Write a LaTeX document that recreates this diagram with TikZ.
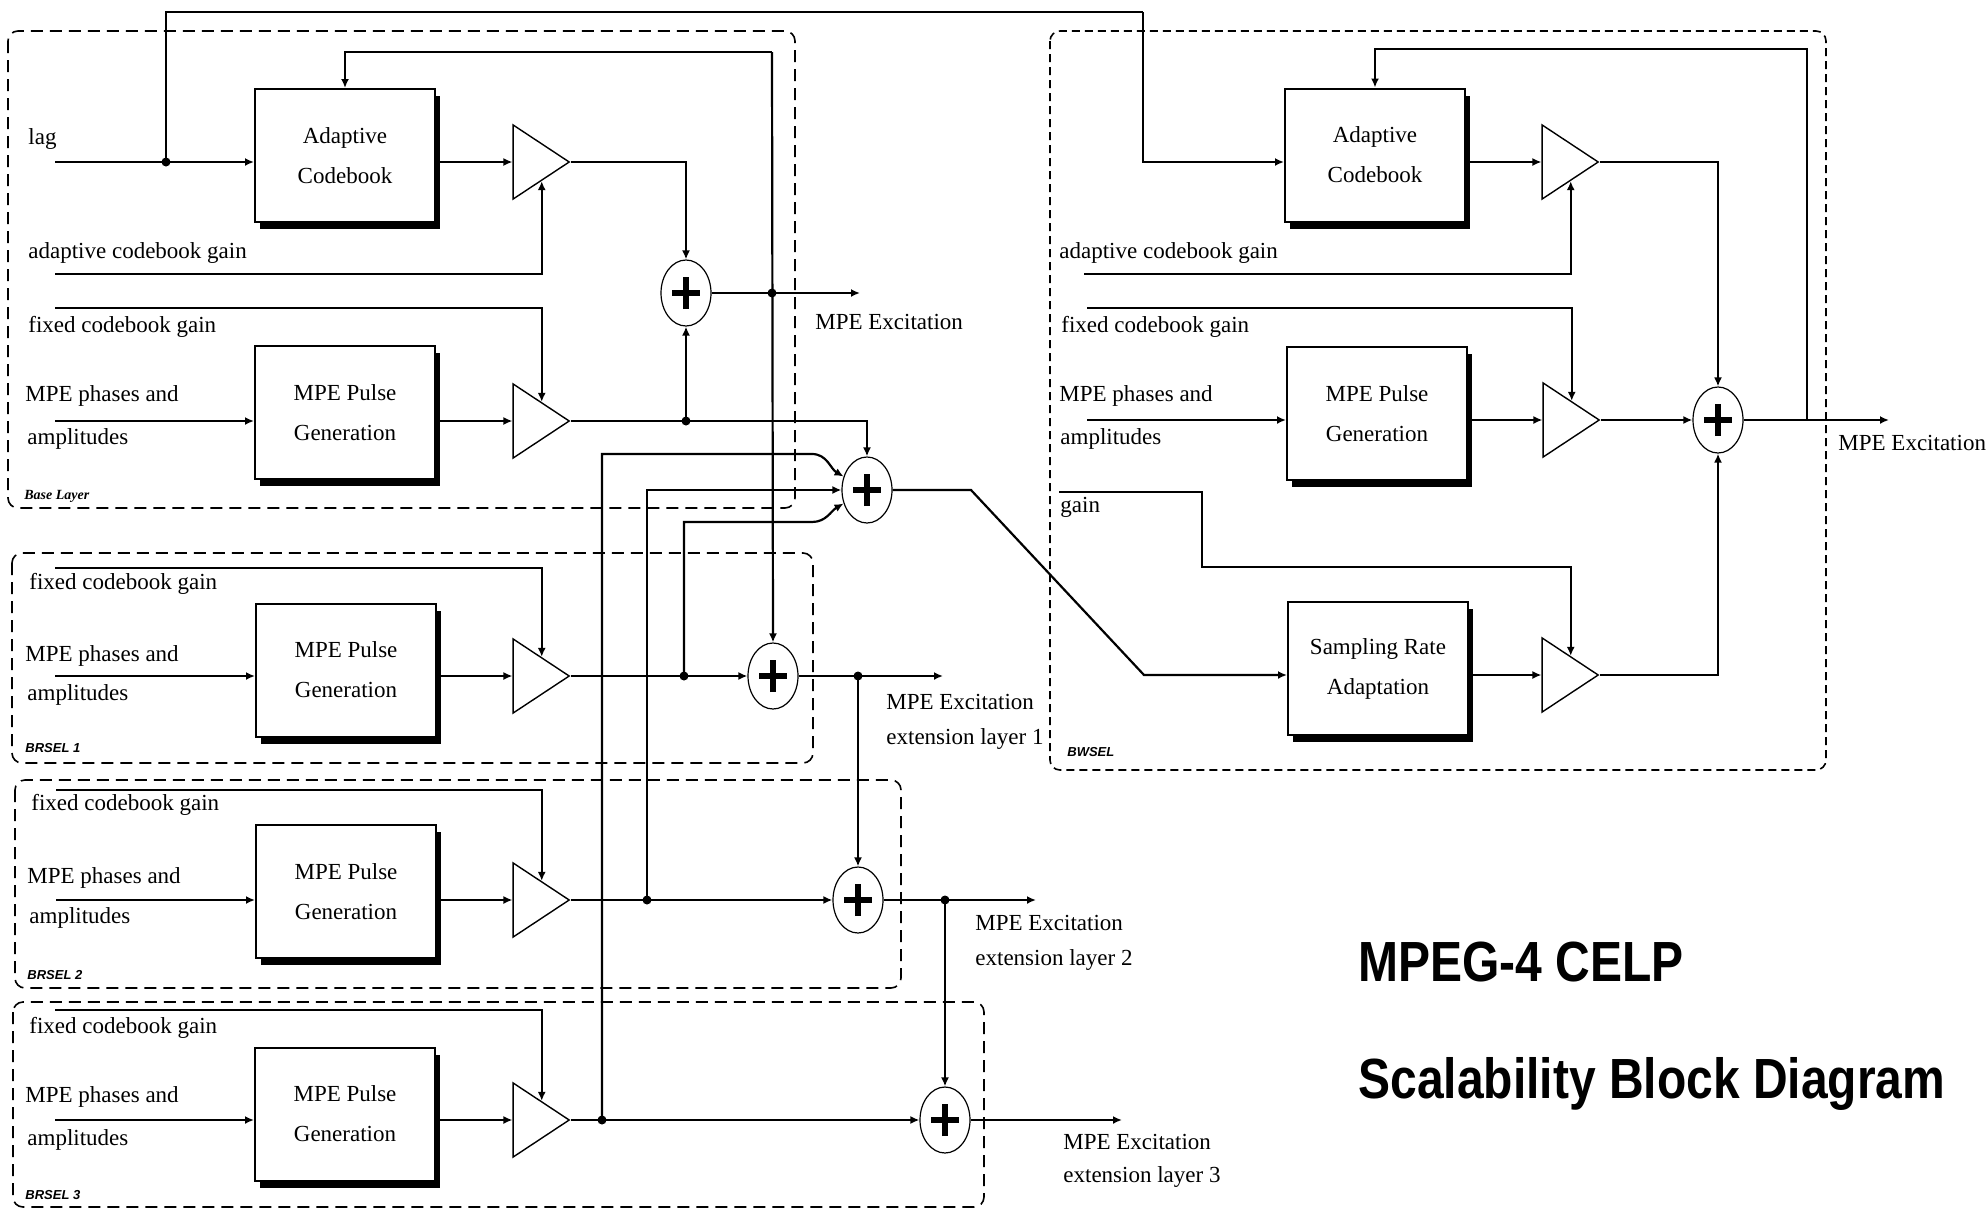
\documentclass[tikz,border=0pt]{standalone}
\usepackage{fontspec}
\setmainfont{Liberation Serif}
\newfontfamily\titlefont{Liberation Sans}
\usetikzlibrary{shapes.geometric,shadows,arrows.meta,calc}

\begin{document}
\begin{tikzpicture}[x=0.5pt,y=-0.5pt,
  sig/.style={line width=1.1pt},
  arr/.style={sig,-{Latex[length=4.5pt,width=4pt]}},
  blk/.style={draw,line width=1pt,fill=white,minimum width=90pt,minimum height=66.5pt,
    align=center,inner sep=0pt,font=\fontsize{11.5}{20}\selectfont,
    drop shadow={shadow xshift=2.5pt,shadow yshift=-3.5pt,fill=black,opacity=1}},
  amp/.style={draw,line width=.7pt,isosceles triangle,isosceles triangle stretches,
    minimum width=37pt,minimum height=28pt,inner sep=0pt,anchor=apex},
  adder/.style={draw,ellipse,line width=.6pt,minimum width=25pt,minimum height=33pt,
    inner sep=0pt,fill=white,
    path picture={\draw[line width=2.8pt]
      ([xshift=-7pt]path picture bounding box.center) -- ([xshift=7pt]path picture bounding box.center)
      ([yshift=-8pt]path picture bounding box.center) -- ([yshift=8pt]path picture bounding box.center);}},
  lbl/.style={anchor=mid west,inner sep=0pt,font=\fontsize{11.5}{13}\selectfont},
  layer/.style={draw,dash pattern=on 6pt off 3.5pt,line width=.8pt,rounded corners=5pt},
  layerfine/.style={draw,dash pattern=on 4pt off 2.5pt,line width=.8pt,rounded corners=5pt},
  tag/.style={anchor=mid west,inner sep=0pt,font=\titlefont\fontsize{6.5}{8}\selectfont\bfseries\itshape},
  jdot/.style={circle,fill,inner sep=0pt,minimum size=4.5pt},
  title/.style={anchor=base west,inner sep=0pt,font=\titlefont\bfseries\fontsize{24}{28}\selectfont}
]
\useasboundingbox (0,0) rectangle (1988,1211);

% ---------- dashed layer frames ----------
\draw[layer] (8,31) rectangle (795,508);
\node[tag,font=\fontsize{7}{8}\selectfont\bfseries\itshape] (tbase) at (24,495) {Base Layer};
\draw[layer] (12,553) rectangle (813,763);
\node[tag] (tb1) at (25,748) {BRSEL 1};
\draw[layer] (15,780) rectangle (901,988);
\node[tag] (tb2) at (27,975) {BRSEL 2};
\draw[layer] (13,1002) rectangle (984,1207);
\node[tag] (tb3) at (25,1195) {BRSEL 3};
\draw[layerfine] (1050,31) rectangle (1826,770);
\node[tag] (tbw) at (1067,752) {BWSEL};

% ---------- blocks ----------
\node[blk] (ac1) at (345,155.5) {Adaptive\\Codebook};
\node[blk] (pg0) at (345,412.5) {MPE Pulse\\Generation};
\node[blk] (pg1) at (346,670) {MPE Pulse\\Generation};
\node[blk] (pg2) at (346,891.5) {MPE Pulse\\Generation};
\node[blk] (pg3) at (345,1114) {MPE Pulse\\Generation};
\node[blk] (ac2) at (1375,155) {Adaptive\\Codebook};
\node[blk] (pgr) at (1377,413.5) {MPE Pulse\\Generation};
\node[blk] (sra) at (1378,668.5) {Sampling Rate\\Adaptation};

% ---------- gain stages ----------
\node[amp] (g0a) at (571,162) {};
\node[amp] (g0f) at (571,421) {};
\node[amp] (g1) at (571,676) {};
\node[amp] (g2) at (571,900) {};
\node[amp] (g3) at (571,1120) {};
\node[amp] (gra) at (1600,162) {};
\node[amp] (grf) at (1601,420) {};
\node[amp] (grs) at (1600,675) {};

% ---------- adders ----------
\node[adder] (s0) at (686,293) {};
\node[adder] (sb) at (867,490) {};
\node[adder] (s1) at (773,676) {};
\node[adder] (s2) at (858,900) {};
\node[adder] (s3) at (945,1120) {};
\node[adder] (sr) at (1718,420) {};

% ---------- wire points ----------
\coordinate (lagin) at (55,162);
\coordinate (j1) at (166,162);
\coordinate (top) at (1143,12);
\coordinate (acg0) at (55,274);
\coordinate (fcg0) at (55,308);
\coordinate (mpe0) at (55,421);
\coordinate (j2) at (686,421);
\coordinate (j3) at (772,293);
\coordinate (fb0) at (772,52);
\coordinate (out0) at (860,293);
\coordinate (fcg1) at (55,568);
\coordinate (mpe1) at (55,676);
\coordinate (j5) at (684,676);
\coordinate (j8) at (858,676);
\coordinate (out1) at (943,676);
\coordinate (fcg2) at (56,790);
\coordinate (mpe2) at (56,900);
\coordinate (j6) at (647,900);
\coordinate (j9) at (945,900);
\coordinate (out2) at (1036,900);
\coordinate (fcg3) at (55,1010);
\coordinate (mpe3) at (55,1120);
\coordinate (j7) at (602,1120);
\coordinate (out3) at (1122,1120);
\coordinate (acgr) at (1084,274);
\coordinate (fcgr) at (1087,308);
\coordinate (mper) at (1087,420);
\coordinate (gainr) at (1059,492);
\coordinate (gbend) at (1202,567);
\coordinate (fbr) at (1807,420);
\coordinate (fbrtop) at (1807,49);
\coordinate (outr) at (1889,420);
\coordinate (sbk1) at (971,490);
\coordinate (sbk2) at (1144,675);

% ---------- base layer wiring ----------
\draw[arr] (lagin) -- (lagin -| ac1.west);
\draw[sig] (j1) |- (top);
\draw[arr] (top) |- (ac2.west |- gra.west);
\draw[arr] (ac1.east |- g0a.west) -- (g0a.west);
\draw[arr] (acg0) -| (g0a.right side);
\draw[arr] (g0a.apex) -| (s0.north);
\draw[arr] (fcg0) -| (g0f.left side);
\draw[arr] (mpe0) -- (mpe0 -| pg0.west);
\draw[arr] (pg0.east |- g0f.west) -- (g0f.west);
\draw[arr] (g0f.apex) -| (sb.north);
\draw[arr] (j2) -- (s0.south);
\draw[arr] (s0.east) -- (out0);
\draw[arr] (fb0) -| (ac1.north);
\draw[arr] (fb0) -- (s1.north);

% ---------- inputs of the combining adder ----------
\draw[arr] (j7) |- (812,454) to[out=0,in=150] (sb.150);
\draw[arr] (j6) |- (sb.west);
\draw[arr] (j5) |- (812,522) to[out=0,in=210] (sb.210);
\draw[arr] (sb.east) -- (sbk1) -- (sbk2) -- (sra.west |- grs.west);

% ---------- BRSEL 1 ----------
\draw[arr] (fcg1) -| (g1.left side);
\draw[arr] (mpe1) -- (mpe1 -| pg1.west);
\draw[arr] (pg1.east |- g1.west) -- (g1.west);
\draw[arr] (g1.apex) -- (s1.west);
\draw[arr] (s1.east) -- (out1);
\draw[arr] (j8) -- (s2.north);

% ---------- BRSEL 2 ----------
\draw[arr] (fcg2) -| (g2.left side);
\draw[arr] (mpe2) -- (mpe2 -| pg2.west);
\draw[arr] (pg2.east |- g2.west) -- (g2.west);
\draw[arr] (g2.apex) -- (s2.west);
\draw[arr] (s2.east) -- (out2);
\draw[arr] (j9) -- (s3.north);

% ---------- BRSEL 3 ----------
\draw[arr] (fcg3) -| (g3.left side);
\draw[arr] (mpe3) -- (mpe3 -| pg3.west);
\draw[arr] (pg3.east |- g3.west) -- (g3.west);
\draw[arr] (g3.apex) -- (s3.west);
\draw[arr] (s3.east) -- (out3);

% ---------- BWSEL ----------
\draw[arr] (ac2.east |- gra.west) -- (gra.west);
\draw[arr] (acgr) -| (gra.right side);
\draw[arr] (gra.apex) -| (sr.north);
\draw[arr] (fcgr) -| (grf.left side);
\draw[arr] (mper) -- (mper -| pgr.west);
\draw[arr] (pgr.east |- grf.west) -- (grf.west);
\draw[arr] (grf.apex) -- (sr.west);
\draw[arr] (gainr) -| (gbend) -| (grs.left side);
\draw[arr] (sra.east |- grs.west) -- (grs.west);
\draw[arr] (grs.apex) -| (sr.south);
\draw[arr] (sr.east) -- (outr);
\draw[arr] (fbr) -- (fbrtop) -| (ac2.north);

% ---------- junction dots ----------
\foreach \p in {j1,j2,j3,j5,j6,j7,j8,j9} \node[jdot] at (\p) {};

% ---------- signal labels ----------
\node[lbl] (l1) at (28,140) {lag};
\node[lbl] (l2) at (28,254) {adaptive codebook gain};
\node[lbl] (l3) at (28,328) {fixed codebook gain};
\node[lbl] (l4) at (25,397) {MPE phases and};
\node[lbl] (l5) at (27,440) {amplitudes};
\node[lbl] (l6) at (815,325) {MPE Excitation};

\node[lbl] (m1) at (29,585) {fixed codebook gain};
\node[lbl] (m2) at (25,657) {MPE phases and};
\node[lbl] (m3) at (27,696) {amplitudes};
\node[lbl] (m4) at (886,705) {MPE Excitation};
\node[lbl] (m5) at (886,740) {extension layer 1};

\node[lbl] (n1) at (31,806) {fixed codebook gain};
\node[lbl] (n2) at (27,879) {MPE phases and};
\node[lbl] (n3) at (29,919) {amplitudes};
\node[lbl] (n4) at (975,926) {MPE Excitation};
\node[lbl] (n5) at (975,961) {extension layer 2};

\node[lbl] (o1) at (29,1029) {fixed codebook gain};
\node[lbl] (o2) at (25,1098) {MPE phases and};
\node[lbl] (o3) at (27,1141) {amplitudes};
\node[lbl] (o4) at (1063,1145) {MPE Excitation};
\node[lbl] (o5) at (1063,1178) {extension layer 3};

\node[lbl] (r1) at (1059,254) {adaptive codebook gain};
\node[lbl] (r2) at (1061,328) {fixed codebook gain};
\node[lbl] (r3) at (1059,397) {MPE phases and};
\node[lbl] (r4) at (1060,440) {amplitudes};
\node[lbl] (r5) at (1060,508) {gain};
\node[lbl] (r6) at (1838,446) {MPE Excitation};

% ---------- title ----------
\node[title] (h1) at (1358,981) {\scalebox{1}[1.18]{MPEG-4 CELP}};
\node[title] (h2) at (1358,1098) {\scalebox{1}[1.18]{Scalability Block Diagram}};
\end{tikzpicture}
\end{document}
